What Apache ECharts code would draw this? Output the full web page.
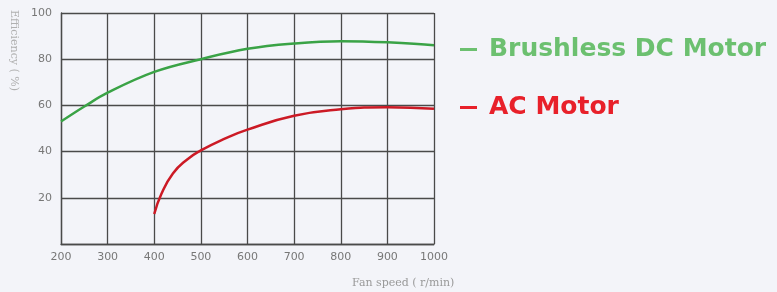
<!DOCTYPE html>
<html>
<head>
<meta charset="utf-8">
<script src="https://cdn.jsdelivr.net/npm/echarts@6/dist/echarts.min.js"></script>
<style>
  html, body { margin: 0; padding: 0; background: #f3f4f9; }
  #chart { width: 777px; height: 292px; }
</style>
</head>
<body>
<div id="chart"></div>
<script>
// fan speed (r/min) vs efficiency (%)
const xTicks = [200, 300, 400, 500, 600, 700, 800, 900, 1000];
const yTicks = [20, 40, 60, 80, 100];

const dcSpeed = [200, 250, 300, 400, 500, 600, 700, 800, 900, 1000];
const dcEff   = [53, 59.5, 65.5, 74.5, 80, 84.5, 86.8, 87.8, 87.3, 86];

const acSpeed = [400, 415, 440, 470, 500, 550, 600, 700, 800, 900, 1000];
const acEff   = [13, 21.5, 30.5, 36.5, 40.5, 45.5, 49.5, 55.5, 58.3, 59.2, 58.5];

const seriesNames = ['Brushless DC Motor', 'AC Motor'];
const seriesColors = ['#3aa346', '#cc1a25'];
const legendColors = ['#6cc070', '#e8202a'];

const chart = echarts.init(document.getElementById('chart'));

const gridLine = { show: true, lineStyle: { color: '#4a4a4a', width: 1.3 } };

chart.setOption({
  backgroundColor: '#f3f4f9',
  animation: false,
  grid: { left: 61, right: 343, top: 13, bottom: 48 },
  legend: {
    orient: 'vertical',
    left: 455,
    top: 32,
    itemGap: 33,
    icon: 'rect',
    itemWidth: 17,
    itemHeight: 3,
    data: seriesNames.map((n, i) => ({
      name: n,
      itemStyle: { color: legendColors[i] },
      textStyle: { color: legendColors[i] }
    })),
    textStyle: {
      fontFamily: '"DejaVu Sans"',
      fontWeight: 'bold',
      fontSize: 25,
      padding: [0, 0, 0, 7]
    }
  },
  xAxis: {
    type: 'value',
    min: xTicks[0],
    max: xTicks[xTicks.length - 1],
    interval: 100,
    axisLine: { show: true, lineStyle: { color: '#4a4a4a', width: 1.3 } },
    axisTick: { show: false },
    splitLine: gridLine,
    axisLabel: { color: '#777', fontSize: 11, margin: 8, fontFamily: 'DejaVu Sans', formatter: v => String(v) }
  },
  yAxis: {
    type: 'value',
    min: 0,
    max: 100,
    interval: 20,
    axisLine: { show: true, lineStyle: { color: '#4a4a4a', width: 1.3 } },
    axisTick: { show: false },
    splitLine: gridLine,
    axisLabel: {
      color: '#777', fontSize: 11, margin: 9, fontFamily: 'DejaVu Sans',
      formatter: v => (yTicks.indexOf(v) >= 0 ? String(v) : '')
    }
  },
  graphic: [
    {
      type: 'text',
      left: 352,
      top: 278,
      style: { text: 'Fan speed ( r/min)', fill: '#999', fontSize: 11, fontFamily: 'DejaVu Serif' }
    },
    {
      type: 'text',
      x: 19,
      y: 10,
      rotation: -Math.PI / 2,
      style: { text: 'Efficiency ( %)', fill: '#b0b0b0', fontSize: 11, fontFamily: 'DejaVu Serif' }
    }
  ],
  series: [
    {
      name: seriesNames[0],
      type: 'line',
      smooth: 0.4,
      showSymbol: false,
      lineStyle: { color: seriesColors[0], width: 2.5 },
      itemStyle: { color: seriesColors[0] },
      data: dcSpeed.map((s, i) => [s, dcEff[i]])
    },
    {
      name: seriesNames[1],
      type: 'line',
      smooth: 0.5,
      showSymbol: false,
      lineStyle: { color: seriesColors[1], width: 2.5 },
      itemStyle: { color: seriesColors[1] },
      data: acSpeed.map((s, i) => [s, acEff[i]])
    }
  ]
});
</script>
</body>
</html>
